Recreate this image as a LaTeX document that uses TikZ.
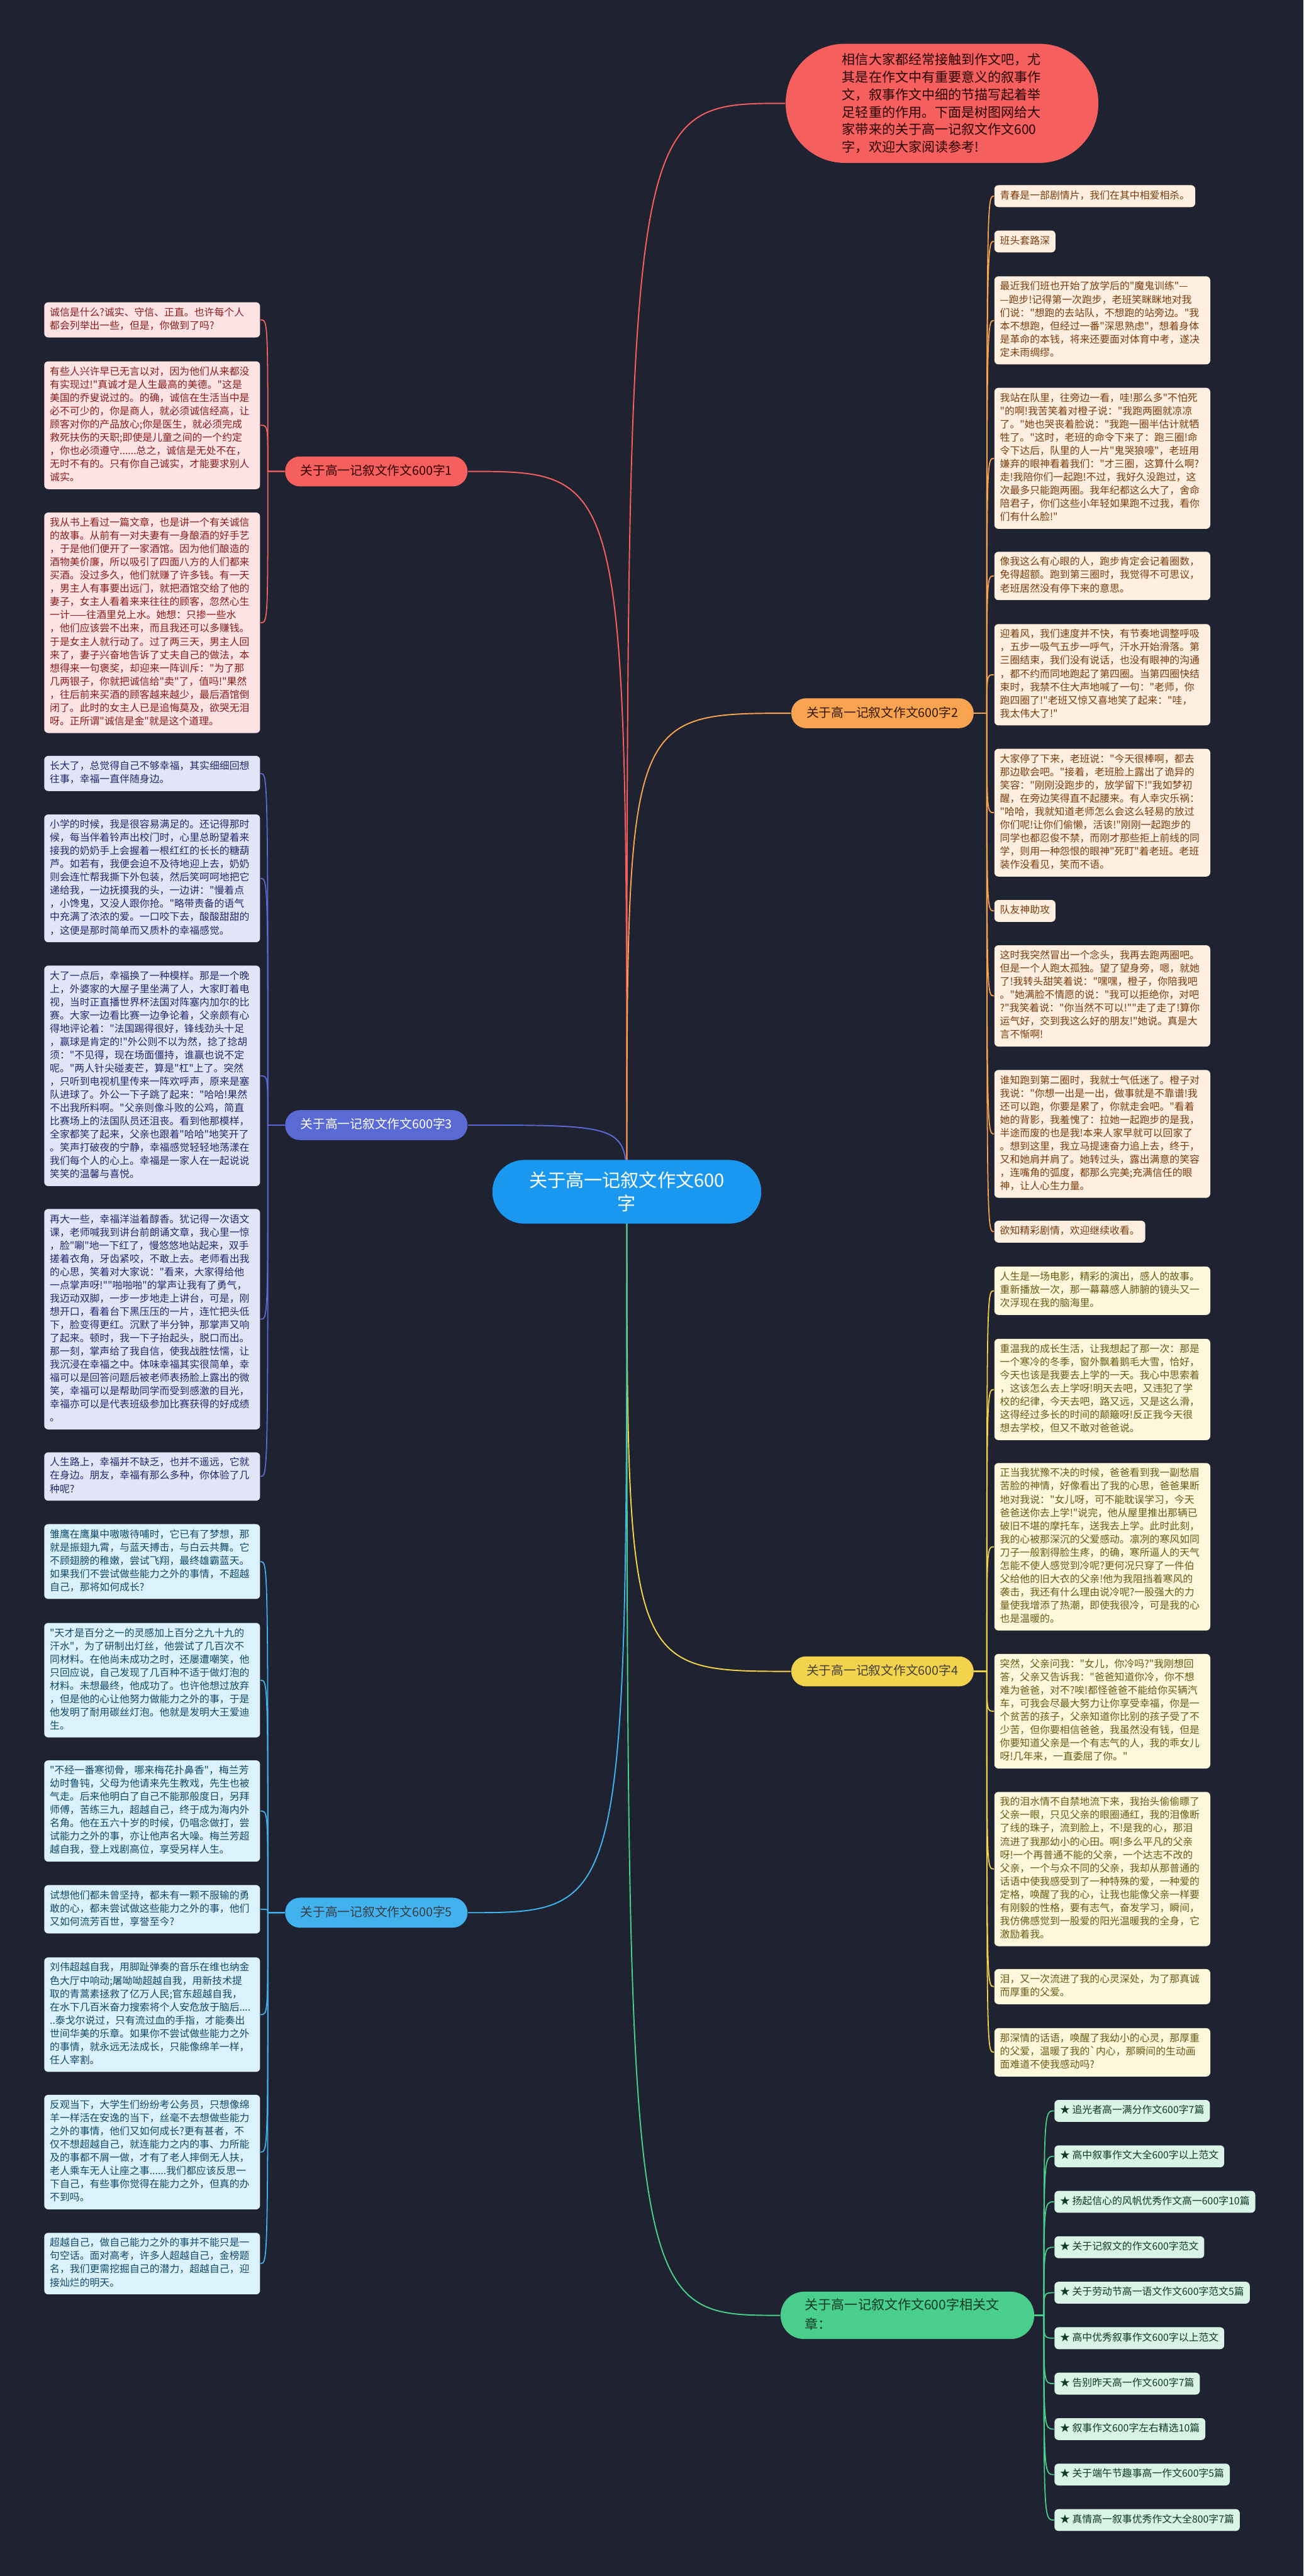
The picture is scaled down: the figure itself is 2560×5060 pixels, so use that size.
\documentclass[tikz,border=0pt]{standalone}
\usepackage{fontspec}
\setmainfont{Noto Sans CJK SC}[Ligatures=TeXOff]
\usetikzlibrary{backgrounds}

\definecolor{bgc}{HTML}{1F2230}
\definecolor{rootc}{HTML}{1A98F0}
\definecolor{redc}{HTML}{F5605E}
\definecolor{redl}{HTML}{FDE3E3}
\definecolor{redt}{HTML}{8B1C1C}
\definecolor{orac}{HTML}{F8A34F}
\definecolor{oral}{HTML}{FFEFE0}
\definecolor{orat}{HTML}{7A3C0C}
\definecolor{bluc}{HTML}{5A6AD5}
\definecolor{blul}{HTML}{E2E5F8}
\definecolor{blut}{HTML}{1F2A6D}
\definecolor{yelc}{HTML}{F3D34C}
\definecolor{yell}{HTML}{FDF7DC}
\definecolor{yelt}{HTML}{6A5A12}
\definecolor{skyc}{HTML}{42B2EE}
\definecolor{skyl}{HTML}{DBF1FB}
\definecolor{skyt}{HTML}{0F4A69}
\definecolor{grnc}{HTML}{49CE8B}
\definecolor{grnl}{HTML}{D9F4E6}
\definecolor{grnt}{HTML}{0E3B25}

\tikzset{
  box/.style={rounded corners=2pt, inner xsep=2.75pt, inner ysep=2.125pt, align=left,
    font=\fontsize{4.9pt}{6.5pt}\selectfont, anchor=north west,
    execute at begin node=\strut, execute at end node=\strut},
  leaf/.style={box, text width=100.5pt},
  rleaf/.style={leaf, fill=redl, text=redt},
  oleaf/.style={leaf, fill=oral, text=orat},
  otag/.style={box, fill=oral, text=orat},
  bleaf/.style={leaf, fill=blul, text=blut},
  yleaf/.style={leaf, fill=yell, text=yelt},
  sleaf/.style={leaf, fill=skyl, text=skyt},
  gitem/.style={box, fill=grnl, text=grnt},
  sec/.style={rounded corners=7.25pt, inner xsep=7.5pt, inner ysep=4.2pt,
    text height=5.0pt, text depth=1.3pt, font=\fontsize{6.1pt}{8pt}\selectfont},
  root/.style={fill=rootc, text=white, rounded corners=15.6pt, align=center,
    minimum width=132pt, minimum height=31.25pt, font=\fontsize{9pt}{11.4pt}\selectfont},
  intro/.style={fill=redc, text=black!85!red, rounded corners=29pt, align=left,
    text width=98pt, minimum width=153.5pt, minimum height=58.5pt,
    font=\fontsize{6.5pt}{8.6pt}\selectfont},
  link/.style={line width=0.6pt},
  twig/.style={line width=0.55pt}
}

\begin{document}
\begin{tikzpicture}[x=0.25pt, y=-0.25pt]
  % Root and intro
  \node[root] (root) at (1231,2341) {关于高一记叙文作文600\\字};
  \node[intro] (intro) at (1850,203) {相信大家都经常接触到作文吧，尤\\其是在作文中有重要意义的叙事作\\文，叙事作文中细的节描写起着举\\足轻重的作用。下面是树图网给大\\家带来的关于高一记叙文作文600\\字，欢迎大家阅读参考!};

  % Sections
  \node[sec, fill=redc, text=black!80!red] (sec1) at (739,926) {关于高一记叙文作文600字1};
  \node[sec, fill=orac, text=black!80!orange] (sec2) at (1733,1401) {关于高一记叙文作文600字2};
  \node[sec, fill=bluc, text=white] (sec3) at (739,2210) {关于高一记叙文作文600字3};
  \node[sec, fill=yelc, text=black!85!yellow] (sec4) at (1733,3283) {关于高一记叙文作文600字4};
  \node[sec, fill=skyc, text=black!85!cyan] (sec5) at (739,3757) {关于高一记叙文作文600字5};
  \node[sec, fill=grnc, text=grnt, text height=, text depth=, align=left, text width=100.5pt,
    minimum width=124.5pt, minimum height=23.25pt, inner xsep=2.75pt, inner ysep=2pt,
    font=\fontsize{6.5pt}{9.6pt}\selectfont, rounded corners=11.5pt,
    execute at begin node=\strut, execute at end node=\strut] (sec6) at (1782,4548) {关于高一记叙文作文600字相关文\\章：};

  % Section 1
  \node[rleaf] (l1) at (86,593) {诚信是什么?诚实、守信、正直。也许每个人\\都会列举出一些，但是，你做到了吗?};
  \node[rleaf] (l2) at (86,709) {有些人兴许早已无言以对，因为他们从来都没\\有实现过!"真诚才是人生最高的美德。"这是\\美国的乔叟说过的。的确，诚信在生活当中是\\必不可少的，你是商人，就必须诚信经高，让\\顾客对你的产品放心;你是医生，就必须完成\\救死扶伤的天职;即使是儿童之间的一个约定\\，你也必须遵守......总之，诚信是无处不在，\\无时不有的。只有你自己诚实，才能要求别人\\诚实。};
  \node[rleaf] (l3) at (86,1006) {我从书上看过一篇文章，也是讲一个有关诚信\\的故事。从前有一对夫妻有一身酿酒的好手艺\\，于是他们便开了一家酒馆。因为他们酿造的\\酒物美价廉，所以吸引了四面八方的人们都来\\买酒。没过多久，他们就赚了许多钱。有一天\\，男主人有事要出远门，就把酒馆交给了他的\\妻子，女主人看着来来往往的顾客，忽然心生\\一计——往酒里兑上水。她想：只掺一些水\\，他们应该尝不出来，而且我还可以多赚钱。\\于是女主人就行动了。过了两三天，男主人回\\来了，妻子兴奋地告诉了丈夫自己的做法，本\\想得来一句褒奖，却迎来一阵训斥："为了那\\几两银子，你就把诚信给"卖"了，值吗!"果然\\，往后前来买酒的顾客越来越少，最后酒馆倒\\闭了。此时的女主人已是追悔莫及，欲哭无泪\\呀。正所谓"诚信是金"就是这个道理。};

  % Section 3
  \node[bleaf] (l4) at (86,1484) {长大了，总觉得自己不够幸福，其实细细回想\\往事，幸福一直伴随身边。};
  \node[bleaf] (l5) at (86,1599) {小学的时候，我是很容易满足的。还记得那时\\候，每当伴着铃声出校门时，心里总盼望着来\\接我的奶奶手上会握着一根红红的长长的糖葫\\芦。如若有，我便会迫不及待地迎上去，奶奶\\则会连忙帮我撕下外包装，然后笑呵呵地把它\\递给我，一边抚摸我的头，一边讲："慢着点\\，小馋鬼，又没人跟你抢。"略带责备的语气\\中充满了浓浓的爱。一口咬下去，酸酸甜甜的\\，这便是那时简单而又质朴的幸福感觉。};
  \node[bleaf] (l6) at (86,1896) {大了一点后，幸福换了一种模样。那是一个晚\\上，外婆家的大屋子里坐满了人，大家盯着电\\视，当时正直播世界杯法国对阵塞内加尔的比\\赛。大家一边看比赛一边争论着，父亲颇有心\\得地评论着："法国踢得很好，锋线劲头十足\\，赢球是肯定的!"外公则不以为然，捻了捻胡\\须："不见得，现在场面僵持，谁赢也说不定\\呢。"两人针尖碰麦芒，算是"杠"上了。突然\\，只听到电视机里传来一阵欢呼声，原来是塞\\队进球了。外公一下子跳了起来："哈哈!果然\\不出我所料啊。"父亲则像斗败的公鸡，简直\\比赛场上的法国队员还沮丧。看到他那模样，\\全家都笑了起来，父亲也跟着"哈哈"地笑开了\\。笑声打破夜的宁静，幸福感觉轻轻地荡漾在\\我们每个人的心上。幸福是一家人在一起说说\\笑笑的温馨与喜悦。};
  \node[bleaf] (l7) at (86,2374) {再大一些，幸福洋溢着醇香。犹记得一次语文\\课，老师喊我到讲台前朗诵文章，我心里一惊\\，脸"唰"地一下红了，慢悠悠地站起来，双手\\搓着衣角，牙齿紧咬，不敢上去。老师看出我\\的心思，笑着对大家说："看来，大家得给他\\一点掌声呀!""啪啪啪"的掌声让我有了勇气，\\我迈动双脚，一步一步地走上讲台，可是，刚\\想开口，看着台下黑压压的一片，连忙把头低\\下，脸变得更红。沉默了半分钟，那掌声又响\\了起来。顿时，我一下子抬起头，脱口而出。\\那一刻，掌声给了我自信，使我战胜怯懦，让\\我沉浸在幸福之中。体味幸福其实很简单，幸\\福可以是回答问题后被老师表扬脸上露出的微\\笑，幸福可以是帮助同学而受到感激的目光，\\幸福亦可以是代表班级参加比赛获得的好成绩\\。};
  \node[bleaf] (l8) at (86,2852) {人生路上，幸福并不缺乏，也并不遥远，它就\\在身边。朋友，幸福有那么多种，你体验了几\\种呢?};

  % Section 5
  \node[sleaf] (l9) at (86,2993) {雏鹰在鹰巢中嗷嗷待哺时，它已有了梦想，那\\就是振翅九霄，与蓝天搏击，与白云共舞。它\\不顾翅膀的稚嫩，尝试飞翔，最终雄霸蓝天。\\如果我们不尝试做些能力之外的事情，不超越\\自己，那将如何成长?};
  \node[sleaf] (l10) at (86,3187) {"天才是百分之一的灵感加上百分之九十九的\\汗水"，为了研制出灯丝，他尝试了几百次不\\同材料。在他尚未成功之时，还屡遭嘲笑，他\\只回应说，自己发现了几百种不适于做灯泡的\\材料。未想最终，他成功了。也许他想过放弃\\，但是他的心让他努力做能力之外的事，于是\\他发明了耐用碳丝灯泡。他就是发明大王爱迪\\生。};
  \node[sleaf] (l11) at (86,3457) {"不经一番寒彻骨，哪来梅花扑鼻香"，梅兰芳\\幼时鲁钝，父母为他请来先生教戏，先生也被\\气走。后来他明白了自己不能那般度日，另拜\\师傅，苦练三九，超越自己，终于成为海内外\\名角。他在五六十岁的时候，仍唱念做打，尝\\试能力之外的事，亦让他声名大噪。梅兰芳超\\越自我，登上戏剧高位，享受另样人生。};
  \node[sleaf] (l12) at (86,3702) {试想他们都未曾坚持，都未有一颗不服输的勇\\敢的心，都未尝试做这些能力之外的事，他们\\又如何流芳百世，享誉至今?};
  \node[sleaf] (l13) at (86,3844) {刘伟超越自我，用脚趾弹奏的音乐在维也纳金\\色大厅中响动;屠呦呦超越自我，用新技术提\\取的青蒿素拯救了亿万人民;官东超越自我，\\在水下几百米奋力搜索将个人安危放于脑后....\\..泰戈尔说过，只有流过血的手指，才能奏出\\世间华美的乐章。如果你不尝试做些能力之外\\的事情，就永远无法成长，只能像绵羊一样，\\任人宰割。};
  \node[sleaf] (l14) at (86,4114) {反观当下，大学生们纷纷考公务员，只想像绵\\羊一样活在安逸的当下，丝毫不去想做些能力\\之外的事情，他们又如何成长?更有甚者，不\\仅不想超越自己，就连能力之内的事、力所能\\及的事都不屑一做，才有了老人摔倒无人扶，\\老人乘车无人让座之事......我们都应该反思一\\下自己，有些事你觉得在能力之外，但真的办\\不到吗。};
  \node[sleaf] (l15) at (86,4385) {超越自己，做自己能力之外的事并不能只是一\\句空话。面对高考，许多人超越自己，金榜题\\名，我们更需挖掘自己的潜力，超越自己，迎\\接灿烂的明天。};

  % Section 2
  \node[otag] (r1) at (1952,363) {青春是一部剧情片，我们在其中相爱相杀。};
  \node[otag] (r2) at (1952,452) {班头套路深};
  \node[oleaf] (r3) at (1952,542) {最近我们班也开始了放学后的"魔鬼训练"—\\—跑步!记得第一次跑步，老班笑眯眯地对我\\们说："想跑的去站队，不想跑的站旁边。"我\\本不想跑，但经过一番"深思熟虑"，想着身体\\是革命的本钱，将来还要面对体育中考，遂决\\定未雨绸缪。};
  \node[oleaf] (r4) at (1952,761) {我站在队里，往旁边一看，哇!那么多"不怕死\\"的啊!我苦笑着对橙子说："我跑两圈就凉凉\\了。"她也哭丧着脸说："我跑一圈半估计就牺\\牲了。"这时，老班的命令下来了：跑三圈!命\\令下达后，队里的人一片"鬼哭狼嚎"，老班用\\嫌弃的眼神看着我们："才三圈，这算什么啊?\\走!我陪你们一起跑!不过，我好久没跑过，这\\次最多只能跑两圈。我年纪都这么大了，舍命\\陪君子，你们这些小年轻如果跑不过我，看你\\们有什么脸!"};
  \node[oleaf] (r5) at (1952,1083) {像我这么有心眼的人，跑步肯定会记着圈数，\\免得超额。跑到第三圈时，我觉得不可思议，\\老班居然没有停下来的意思。};
  \node[oleaf] (r6) at (1952,1225) {迎着风，我们速度并不快，有节奏地调整呼吸\\，五步一吸气五步一呼气，汗水开始滑落。第\\三圈结束，我们没有说话，也没有眼神的沟通\\，都不约而同地跑起了第四圈。当第四圈快结\\束时，我禁不住大声地喊了一句："老师，你\\跑四圈了!"老班又惊又喜地笑了起来："哇，\\我太伟大了!"};
  \node[oleaf] (r7) at (1952,1470) {大家停了下来，老班说："今天很棒啊，都去\\那边歇会吧。"接着，老班脸上露出了诡异的\\笑容："刚刚没跑步的，放学留下!"我如梦初\\醒，在旁边笑得直不起腰来。有人幸灾乐祸：\\"哈哈，我就知道老师怎么会这么轻易的放过\\你们呢!让你们偷懒，活该!"刚刚一起跑步的\\同学也都忍俊不禁，而刚才那些拒上前线的同\\学，则用一种怨恨的眼神"死盯"着老班。老班\\装作没看见，笑而不语。};
  \node[otag] (r8) at (1952,1767) {队友神助攻};
  \node[oleaf] (r9) at (1952,1856) {这时我突然冒出一个念头，我再去跑两圈吧。\\但是一个人跑太孤独。望了望身旁，嗯，就她\\了!我转头甜笑着说："嘿嘿，橙子，你陪我吧\\。"她满脸不情愿的说："我可以拒绝你，对吧\\?"我笑着说："你当然不可以!""走了走了!算你\\运气好，交到我这么好的朋友!"她说。真是大\\言不惭啊!};
  \node[oleaf] (r10) at (1952,2101) {谁知跑到第二圈时，我就士气低迷了。橙子对\\我说："你想一出是一出，做事就是不靠谱!我\\还可以跑，你要是累了，你就走会吧。"看着\\她的背影，我羞愧了：拉她一起跑步的是我，\\半途而废的也是我!本来人家早就可以回家了\\。想到这里，我立马提速奋力追上去，终于，\\又和她肩并肩了。她转过头，露出满意的笑容\\，连嘴角的弧度，都那么完美;充满信任的眼\\神，让人心生力量。};
  \node[otag] (r11) at (1952,2397) {欲知精彩剧情，欢迎继续收看。};

  % Section 4
  \node[yleaf] (r12) at (1952,2487) {人生是一场电影，精彩的演出，感人的故事。\\重新播放一次，那一幕幕感人肺腑的镜头又一\\次浮现在我的脑海里。};
  \node[yleaf] (r13) at (1952,2629) {重温我的成长生活，让我想起了那一次：那是\\一个寒冷的冬季，窗外飘着鹅毛大雪，恰好，\\今天也该是我要去上学的一天。我心中思索着\\，这该怎么去上学呀!明天去吧，又违犯了学\\校的纪律，今天去吧，路又远，又是这么滑，\\这得经过多长的时间的颠簸呀!反正我今天很\\想去学校，但又不敢对爸爸说。};
  \node[yleaf] (r14) at (1952,2873) {正当我犹豫不决的时候，爸爸看到我一副愁眉\\苦脸的神情，好像看出了我的心思，爸爸果断\\地对我说："女儿呀，可不能耽误学习，今天\\爸爸送你去上学!"说完，他从屋里推出那辆已\\破旧不堪的摩托车，送我去上学。此时此刻，\\我的心被那深沉的父爱感动。凛冽的寒风如同\\刀子一般割得脸生疼，的确，寒所逼人的天气\\怎能不使人感觉到冷呢?更何况只穿了一件伯\\父给他的旧大衣的父亲!他为我阻挡着寒风的\\袭击，我还有什么理由说冷呢?一股强大的力\\量使我增添了热潮，即使我很冷，可是我的心\\也是温暖的。};
  \node[yleaf] (r15) at (1952,3248) {突然，父亲问我："女儿，你冷吗?"我刚想回\\答，父亲又告诉我："爸爸知道你冷，你不想\\难为爸爸，对不?唉!都怪爸爸不能给你买辆汽\\车，可我会尽最大努力让你享受幸福，你是一\\个贫苦的孩子，父亲知道你比别的孩子受了不\\少苦，但你要相信爸爸，我虽然没有钱，但是\\你要知道父亲是一个有志气的人，我的乖女儿\\呀!几年来，一直委屈了你。"};
  \node[yleaf] (r16) at (1952,3519) {我的泪水情不自禁地流下来，我抬头偷偷瞟了\\父亲一眼，只见父亲的眼圈通红，我的泪像断\\了线的珠子，流到脸上，不!是我的心，那泪\\流进了我那幼小的心田。啊!多么平凡的父亲\\呀!一个再普通不能的父亲，一个达志不改的\\父亲，一个与众不同的父亲，我却从那普通的\\话语中使我感受到了一种特殊的爱，一种爱的\\定格，唤醒了我的心，让我也能像父亲一样要\\有刚毅的性格，要有志气，奋发学习，瞬间，\\我仿佛感觉到一股爱的阳光温暖我的全身，它\\激励着我。};
  \node[yleaf] (r17) at (1952,3867) {泪，又一次流进了我的心灵深处，为了那真诚\\而厚重的父爱。};
  \node[yleaf] (r18) at (1952,3983) {那深情的话语，唤醒了我幼小的心灵，那厚重\\的父爱，温暖了我的`内心，那瞬间的生动画\\面难道不使我感动吗?};

  % Section 6: related articles
  \foreach \t [count=\i] in {追光者高一满分作文600字7篇, 高中叙事作文大全600字以上范文,
      扬起信心的风帆优秀作文高一600字10篇, 关于记叙文的作文600字范文,
      关于劳动节高一语文作文600字范文5篇, 高中优秀叙事作文600字以上范文,
      告别昨天高一作文600字7篇, 叙事作文600字左右精选10篇,
      关于端午节趣事高一作文600字5篇, 真情高一叙事优秀作文大全800字7篇}
    \node[gitem] (g\i) at (2070,{4124+89.3*(\i-1)}) {★ \t};

  % Connectors
  \begin{scope}[on background layer]
    \fill[bgc] (0,0) rectangle (2560,5060);
    \draw[link, redc] (root.center) .. controls (root.center |- intro.west) .. (intro.west);
    \draw[link, redc] (root.center) .. controls (root.center |- sec1.east) .. (sec1.east);
    \draw[link, orac] (root.center) .. controls (root.center |- sec2.west) .. (sec2.west);
    \draw[link, bluc] (root.center) .. controls (root.center |- sec3.east) .. (sec3.east);
    \draw[link, yelc] (root.center) .. controls (root.center |- sec4.west) .. (sec4.west);
    \draw[link, skyc] (root.center) .. controls (root.center |- sec5.east) .. (sec5.east);
    \draw[link, grnc] (root.center) .. controls (root.center |- sec6.west) .. (sec6.west);

    \coordinate (t1) at (526,926);
    \coordinate (t2) at (1938,1401);
    \coordinate (t3) at (526,2210);
    \coordinate (t4) at (1938,3283);
    \coordinate (t5) at (526,3757);
    \coordinate (t6) at (2050,4548);
    \foreach \n in {1,...,3}
      \draw[twig, redc] (sec1.west) -- (t1) .. controls (t1 |- l\n.east) and (t1 |- l\n.east) .. (l\n.east);
    \foreach \n in {4,...,8}
      \draw[twig, bluc] (sec3.west) -- (t3) .. controls (t3 |- l\n.east) and (t3 |- l\n.east) .. (l\n.east);
    \foreach \n in {9,...,15}
      \draw[twig, skyc] (sec5.west) -- (t5) .. controls (t5 |- l\n.east) and (t5 |- l\n.east) .. (l\n.east);
    \foreach \n in {1,...,11}
      \draw[twig, orac] (sec2.east) -- (t2) .. controls (t2 |- r\n.west) and (t2 |- r\n.west) .. (r\n.west);
    \foreach \n in {12,...,18}
      \draw[twig, yelc] (sec4.east) -- (t4) .. controls (t4 |- r\n.west) and (t4 |- r\n.west) .. (r\n.west);
    \foreach \n in {1,...,10}
      \draw[twig, grnc] (sec6.east) -- (t6) .. controls (t6 |- g\n.west) and (t6 |- g\n.west) .. (g\n.west);
  \end{scope}
\end{tikzpicture}
\end{document}
